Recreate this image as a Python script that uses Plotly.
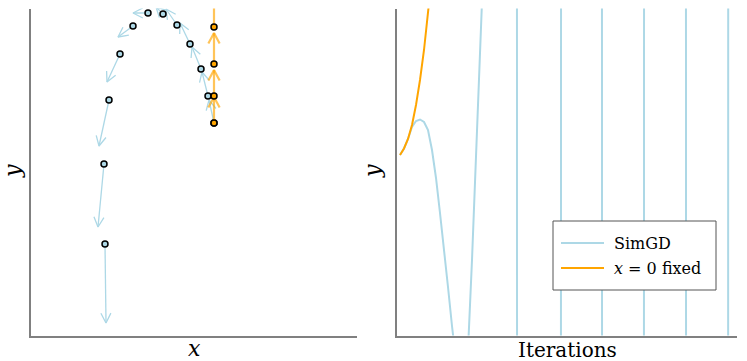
import math
import plotly.graph_objects as go

W, H = 747, 361

# ---- left panel: trajectories in the (x, y) plane ----
simgd_x = [0.0, -0.06, -0.13, -0.24, -0.37, -0.51, -0.66, -0.81, -0.94, -1.05, -1.10, -1.09]
simgd_y = [0.0, 0.27, 0.54, 0.79, 0.98, 1.09, 1.10, 0.97, 0.69, 0.23, -0.41, -1.21]
simgd_u = [-0.05, -0.06, -0.09, -0.10, -0.11, -0.07, -0.15, -0.15, -0.13, -0.10, -0.06, 0.01]
simgd_v = [0.23, 0.24, 0.22, 0.21, 0.16, 0.07, 0.0, -0.11, -0.28, -0.46, -0.63, -0.79]

fixed_x = [0.0, 0.0, 0.0, 0.0]
fixed_y = [0.0, 0.27, 0.59, 0.96]
fixed_u = [0.0, 0.0, 0.0, 0.0]
fixed_v = [0.26, 0.26, 0.31, 0.40]

# ---- right panel: y against iterations ----
iters_simgd = [0, 0.5, 1, 1.5, 2, 2.5, 3, 3.5, 4, 4.5, 5, 5.5, 6, 6.5, 7, 7.5, 8, 8.5,
               9, 9.5, 10, 10.5, 11, 12.5, 14.525, 14.725, 17.4, 20.025, 20.225, 22.7,
               25.15, 25.35, 27.9, 30.4, 30.6, 33.1, 35.65, 35.85, 38.4, 40.9, 41.1, 42.5]
y_simgd = [0, 0.13, 0.32, 0.56, 0.68, 0.71, 0.66, 0.5, 0.1, -0.46, -1.16, -1.86, -2.64,
           -3.42, -4.26, -4.8, -4.7, -3.9, -2.1, 0.1, 2.0, 4.1, 9, 80, 60, -60, -300, -60,
           60, 500, 60, -60, -800, -60, 60, 1200, 60, -60, -2000, -60, 60, 3000]
iters_fixed = [0, 0.5, 1, 1.5, 2, 2.5, 3, 3.5, 4]
y_fixed = [0, 0.13, 0.32, 0.6, 1.0, 1.5, 2.1, 2.8, 3.6]

LIGHTBLUE = "#add8e6"
ORANGE = "#ffa500"
SERIF = "DejaVu Serif"

# axis placement (pixels in the 747x361 page)
left_dom = [31 / W, 357 / W]
right_dom = [397 / W, 737 / W]
y_dom = [(H - 335.5) / H, (H - 8.5) / H]
left_xr, left_yr = [-1.83, 1.43], [-2.125, 1.145]
right_xr, right_yr = [-0.375, 42.125], [-3.61, 2.93]


def px(x, y):
    return x / W, (H - y) / H


def arrows(xs, ys, us, vs, xr, yr, xdom, head=11, ang=27):
    # open "->" arrows: shaft plus two head strokes, built in pixel space
    sx = (xdom[1] - xdom[0]) * W / (xr[1] - xr[0])
    sy = (y_dom[1] - y_dom[0]) * H / (yr[1] - yr[0])
    ax, ay = [], []
    for x, y, u, v in zip(xs, ys, us, vs):
        tx, ty = x + u, y + v
        dx, dy = u * sx, v * sy
        L = math.hypot(dx, dy)
        ux, uy = dx / L, dy / L
        hs = []
        for s in (1, -1):
            a = math.radians(ang) * s
            rx = -(ux * math.cos(a) - uy * math.sin(a))
            ry = -(ux * math.sin(a) + uy * math.cos(a))
            hs.append((tx + rx * head / sx, ty + ry * head / sy))
        ax += [x, tx, None, hs[0][0], tx, hs[1][0], None]
        ay += [y, ty, None, hs[0][1], ty, hs[1][1], None]
    return ax, ay


fig = go.Figure()

bx, by = arrows(simgd_x, simgd_y, simgd_u, simgd_v, left_xr, left_yr, left_dom)
fig.add_trace(go.Scatter(x=bx, y=by, mode="lines", line=dict(color=LIGHTBLUE, width=1.3),
                         xaxis="x", yaxis="y", hoverinfo="skip"))
fig.add_trace(go.Scatter(x=simgd_x, y=simgd_y, mode="markers",
                         marker=dict(color=LIGHTBLUE, size=6, line=dict(color="black", width=1.5)),
                         xaxis="x", yaxis="y"))
ox, oy = arrows(fixed_x, fixed_y, fixed_u, fixed_v, left_xr, left_yr, left_dom, head=12, ang=28)
fig.add_trace(go.Scatter(x=ox, y=oy, mode="lines", line=dict(color="rgba(255,165,0,0.65)", width=2.2),
                         xaxis="x", yaxis="y", hoverinfo="skip"))
fig.add_trace(go.Scatter(x=fixed_x, y=fixed_y, mode="markers",
                         marker=dict(color=ORANGE, size=6, line=dict(color="black", width=1.5)),
                         xaxis="x", yaxis="y"))

fig.add_trace(go.Scatter(x=iters_simgd, y=y_simgd, mode="lines", name="SimGD",
                         line=dict(color=LIGHTBLUE, width=2), xaxis="x2", yaxis="y2"))
fig.add_trace(go.Scatter(x=iters_fixed, y=y_fixed, mode="lines", name="x = 0 fixed",
                         line=dict(color=ORANGE, width=2), xaxis="x2", yaxis="y2"))

axis = dict(showgrid=False, zeroline=False, showticklabels=False, ticks="",
            showline=True, linecolor="#808080", linewidth=1.5, fixedrange=True)

# hand-made legend box, so the empty space below the entries matches
lx0, ly0 = px(553, 221)
lx1, ly1 = px(716, 290)
shapes = [dict(type="rect", xref="paper", yref="paper", x0=lx0, y0=ly1, x1=lx1, y1=ly0,
               fillcolor="white", line=dict(color="#555555", width=1), layer="above")]
annotations = []
for ypix, col, label in [(243, LIGHTBLUE, "SimGD"), (268, ORANGE, "<i>x</i> = 0 fixed")]:
    a0, yy = px(561, ypix)
    a1, _ = px(604, ypix)
    shapes.append(dict(type="line", xref="paper", yref="paper", x0=a0, x1=a1, y0=yy, y1=yy,
                       line=dict(color=col, width=2), layer="above"))
    tx, _ = px(612, ypix)
    annotations.append(dict(text=label, x=tx, y=yy, xref="paper", yref="paper",
                            xanchor="left", yanchor="middle", showarrow=False,
                            font=dict(family=SERIF, size=16, color="black")))

for xp, yp, txt, rot, size in [(194, 348, "<i>x</i>", 0, 22), (12, 171, "<i>y</i>", -90, 22),
                               (372, 171, "<i>y</i>", -90, 22), (567, 349.5, "Iterations", 0, 20)]:
    ax_, ay_ = px(xp, yp)
    annotations.append(dict(text=txt, x=ax_, y=ay_, xref="paper", yref="paper",
                            xanchor="center", yanchor="middle", showarrow=False, textangle=rot,
                            font=dict(family=SERIF, size=size, color="black")))

fig.update_layout(
    width=W, height=H,
    margin=dict(l=0, r=0, t=0, b=0),
    paper_bgcolor="white", plot_bgcolor="white",
    showlegend=False,
    xaxis=dict(axis, domain=left_dom, range=left_xr),
    yaxis=dict(axis, domain=y_dom, range=left_yr),
    xaxis2=dict(axis, domain=right_dom, range=right_xr, anchor="y2"),
    yaxis2=dict(axis, domain=y_dom, range=right_yr, anchor="x2"),
    shapes=shapes,
    annotations=annotations,
)

# the page body has a default margin; drop it so the figure sits at the corner
fig.write_html("out.html", config={"displayModeBar": False},
               post_script="document.body.style.margin='0';")
